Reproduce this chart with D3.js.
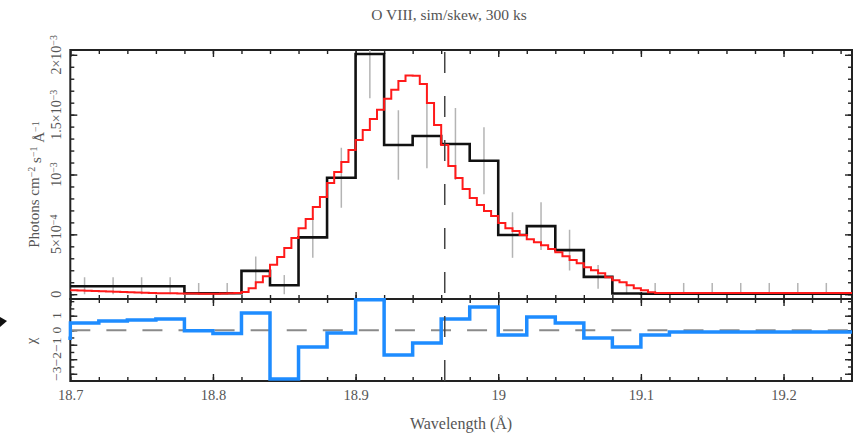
<!DOCTYPE html>
<html><head><meta charset="utf-8">
<script src="https://cdn.jsdelivr.net/npm/d3@7"></script>
<style>
body{margin:0;background:#fff;}
svg{display:block;}
text{font-family:"Liberation Serif","DejaVu Serif",serif;fill:#555;}
</style></head><body>
<svg id="c" width="857" height="437"></svg>
<script>
// ---------- data ----------
const titleText = "O VIII, sim/skew, 300 ks";
const xLabel = "Wavelength (Å)";
const xTickValues = [18.7, 18.8, 18.9, 19.0, 19.1, 19.2];
const xTickLabels = ["18.7", "18.8", "18.9", "19", "19.1", "19.2"];
const fluxTickValues = [0, 0.5, 1, 1.5, 2];            // units of 1e-3
const fluxTickMantissa = ["0", "5×10", "10", "1.5×10", "2×10"];
const fluxTickExponent = ["", "−4", "−3", "−3", "−3"];
const chiTickValues = [-3, -2, -1, 0, 1];
const chiTickLabels = ["−3", "−2", "−1", "0", "1"];
const lineRest = 18.9625;                                // dashed marker (Å)

// observed spectrum, 0.02 Å bins (flux in 1e-3 photons cm^-2 s^-1 Å^-1)
const binEdges = [18.70,18.72,18.74,18.76,18.78,18.80,18.82,18.84,18.86,18.88,18.90,18.92,18.94,18.96,18.98,
                  19.00,19.02,19.04,19.06,19.08,19.10,19.12,19.14,19.16,19.18,19.20,19.22,19.24,19.26];
const fluxValues = [0.067,0.067,0.067,0.067,0.008,0.008,0.195,0.075,0.475,0.973,2.006,1.247,1.322,1.255,
                    1.115,0.494,0.569,0.368,0.145,0.006,0.004,0.004,0.004,0.004,0.004,0.004,0.004,0.004];
const fluxErrors = [0.075,0.075,0.075,0.075,0.085,0.085,0.12,0.085,0.17,0.25,0.37,0.29,0.27,0.30,
                    0.28,0.19,0.20,0.17,0.10,0.09,0.09,0.09,0.09,0.09,0.09,0.09,0.09,0.09];

// residuals (chi), bins start one bin earlier (clipped)
const chiEdges = [18.68,18.70,18.72,18.74,18.76,18.78,18.80,18.82,18.84,18.86,18.88,18.90,18.92,18.94,18.96,18.98,
                  19.00,19.02,19.04,19.06,19.08,19.10,19.12,19.14,19.16,19.18,19.20,19.22,19.24,19.26];
const chiValues = [-0.55,0.50,0.63,0.70,0.77,-0.03,-0.22,1.19,-3.37,-1.16,-0.19,2.10,-1.71,-0.88,0.77,1.60,
                   -0.33,0.91,0.50,-0.54,-1.16,-0.33,-0.12,-0.12,-0.12,-0.12,-0.12,-0.12,-0.12];

// model, 0.005 Å bins starting at 18.70 (units 1e-3)
const modelStart = 18.70, modelStep = 0.005;
const modelValues = [0.033,0.031,0.029,0.027,0.025,0.023,0.021,0.019,0.017,0.015,0.013,0.011,0.009,0.008,0.007,
  0.006,0.005,0.005,0.004,0.004,0.004,0.005,
  0.007,0.010,0.019,0.050,0.100,0.151,0.247,0.310,0.385,0.469,0.552,0.628,0.728,0.812,0.929,1.021,1.105,1.205,
  1.289,1.372,1.464,1.540,1.632,1.707,1.782,1.828,1.824,1.757,1.598,1.414,1.247,1.071,0.971,0.879,0.803,0.745,
  0.695,0.653,0.594,0.552,0.527,0.494,0.460,0.435,0.410,0.377,0.351,0.318,0.285,0.259,0.226,0.201,0.176,0.142,
  0.117,0.100,0.075,0.050,0.033,0.017,
  0.011,0.011,0.011,0.011,0.011,0.011,0.011,0.011,0.011,0.011,0.011,0.011,0.011,0.011,0.011,0.011,0.011,0.011,
  0.011,0.011,0.011,0.011,0.011,0.011,0.011,0.011,0.011,0.011];

// ---------- layout ----------
const L = 70.3, R = 852, T1 = 50, B1 = 299, B2 = 381;
const svg = d3.select("#c");

const x = d3.scaleLinear().domain([18.7, 19.248]).range([L, R]);
const y1 = d3.scaleLinear().domain([-0.04, 2.04]).range([B1, T1]);
const y2 = d3.scaleLinear().domain([-3.5, 2.15]).range([B2, B1]);

const defs = svg.append("defs");
defs.append("clipPath").attr("id", "clip1").append("rect")
  .attr("x", L - 1).attr("y", T1).attr("width", R - L + 1).attr("height", B1 - T1);
defs.append("clipPath").attr("id", "clip2").append("rect")
  .attr("x", L - 2).attr("y", B1 - 1).attr("width", R - L + 2).attr("height", B2 - B1 + 1);

const xMinor = d3.range(0, 28).map(i => 18.70 + i * 0.02);
const y1Minor = d3.range(0, 21).map(i => i * 0.1);
const y2Minor = d3.range(0, 11).map(i => -3 + i * 0.5);

function addAxis(gen, tx, ty) {
  const g = svg.append("g").attr("transform", `translate(${tx},${ty})`).call(gen);
  g.select(".domain").remove();
  g.selectAll("line").attr("stroke", "#222").attr("stroke-width", 1.4);
  return g;
}
// x ticks (inward) for both panels
[[d3.axisBottom, T1], [d3.axisTop, B1], [d3.axisBottom, B1], [d3.axisTop, B2]].forEach(([f, yy]) => {
  addAxis(f(x).tickValues(xTickValues).tickSize(7).tickFormat(""), 0, yy);
  addAxis(f(x).tickValues(xMinor).tickSize(4).tickFormat(""), 0, yy);
});
// y ticks panel 1
addAxis(d3.axisRight(y1).tickValues(fluxTickValues).tickSize(7).tickFormat(""), L, 0);
addAxis(d3.axisRight(y1).tickValues(y1Minor).tickSize(4).tickFormat(""), L, 0);
addAxis(d3.axisLeft(y1).tickValues(fluxTickValues).tickSize(7).tickFormat(""), R, 0);
addAxis(d3.axisLeft(y1).tickValues(y1Minor).tickSize(4).tickFormat(""), R, 0);
// y ticks panel 2
addAxis(d3.axisRight(y2).tickValues(chiTickValues).tickSize(7).tickFormat(""), L, 0);
addAxis(d3.axisRight(y2).tickValues(y2Minor).tickSize(4).tickFormat(""), L, 0);
addAxis(d3.axisLeft(y2).tickValues(chiTickValues).tickSize(7).tickFormat(""), R, 0);
addAxis(d3.axisLeft(y2).tickValues(y2Minor).tickSize(4).tickFormat(""), R, 0);

// x tick labels
const xl = addAxis(d3.axisBottom(x).tickValues(xTickValues).tickSize(0).tickPadding(9)
  .tickFormat((d, i) => xTickLabels[i]), 0, B2);
xl.selectAll("text").attr("font-family", "Liberation Serif, serif").attr("font-size", 14.5).attr("fill", "#555");

// frames
svg.append("rect").attr("x", L).attr("y", T1).attr("width", R - L).attr("height", B1 - T1)
  .attr("fill", "none").attr("stroke", "#222").attr("stroke-width", 2);
svg.append("rect").attr("x", L).attr("y", B1).attr("width", R - L).attr("height", B2 - B1)
  .attr("fill", "none").attr("stroke", "#222").attr("stroke-width", 2);

// ---------- panel 1 ----------
const p1 = svg.append("g").attr("clip-path", "url(#clip1)");
const centres = fluxValues.map((v, i) => (binEdges[i] + binEdges[i + 1]) / 2);
p1.selectAll("line.err").data(fluxValues).join("line").attr("class", "err")
  .attr("x1", (d, i) => x(centres[i])).attr("x2", (d, i) => x(centres[i]))
  .attr("y1", (d, i) => y1(Math.max(0, d - fluxErrors[i])))
  .attr("y2", (d, i) => y1(d + fluxErrors[i]))
  .attr("stroke", "#b4b4b4").attr("stroke-width", 1.5);

const stepLine = (xs, ys, ysc) => d3.line().curve(d3.curveStepAfter)
  .x(d => x(d[0])).y(d => ysc(d[1]))(ys.map((v, i) => [xs[i], v]).concat([[xs[ys.length], ys[ys.length - 1]]]));

p1.append("path").attr("d", stepLine(binEdges, fluxValues, y1))
  .attr("fill", "none").attr("stroke", "#111").attr("stroke-width", 2.6);

const modelEdges = d3.range(0, modelValues.length + 1).map(i => modelStart + i * modelStep);
p1.append("path").attr("d", stepLine(modelEdges, modelValues, y1))
  .attr("fill", "none").attr("stroke", "#ff1a1a").attr("stroke-width", 2);

// ---------- panel 2 ----------
const p2 = svg.append("g").attr("clip-path", "url(#clip2)");
p2.append("line").attr("x1", L).attr("x2", R).attr("y1", y2(0)).attr("y2", y2(0))
  .attr("stroke", "#8a8a8a").attr("stroke-width", 2).attr("stroke-dasharray", "20,16.07");
p2.append("path").attr("d", stepLine(chiEdges, chiValues, y2))
  .attr("fill", "none").attr("stroke", "#1e8cff").attr("stroke-width", 3.5);

// vertical dashed marker across both panels
svg.append("line").attr("x1", x(lineRest)).attr("x2", x(lineRest)).attr("y1", 52).attr("y2", B2)
  .attr("stroke", "#444").attr("stroke-width", 1.5).attr("stroke-dasharray", "21,23");

// ---------- texts ----------
svg.append("text").attr("x", 449).attr("y", 20).attr("text-anchor", "middle")
  .attr("font-size", 15.5).attr("fill", "#444").text(titleText);
svg.append("text").attr("x", 461).attr("y", 429).attr("text-anchor", "middle")
  .attr("font-size", 16).text(xLabel);

// y tick labels panel 1
fluxTickValues.forEach((v, i) => {
  const t = svg.append("text").attr("transform", `translate(61,${y1(v)}) rotate(-90)`)
    .attr("text-anchor", "middle").attr("font-size", 14);
  t.append("tspan").text(fluxTickMantissa[i]);
  if (fluxTickExponent[i]) t.append("tspan").attr("dy", "-0.45em").attr("font-size", 10).text(fluxTickExponent[i]);
});
// y tick labels panel 2
chiTickValues.forEach((v, i) => {
  svg.append("text").attr("transform", `translate(61,${y2(v)}) rotate(-90)`)
    .attr("text-anchor", "middle").attr("font-size", 13.5).text(chiTickLabels[i]);
});
// y title panel 1
const yt = svg.append("text").attr("transform", `translate(39,${(T1 + B1) / 2 + 10}) rotate(-90)`)
  .attr("text-anchor", "middle").attr("font-size", 15);
[["Photons cm", 0], ["−2", -1], [" s", 1], ["−1", -1], [" Å", 1], ["−1", -1]].forEach(([s, k]) => {
  const ts = yt.append("tspan").text(s);
  if (k === -1) ts.attr("dy", "-0.45em").attr("font-size", 10);
  if (k === 1) ts.attr("dy", "6.75");
});
// chi title
svg.append("text").attr("transform", `translate(36,341) rotate(-90)`)
  .attr("text-anchor", "middle").attr("font-size", 15).text("χ");

// small arrow glyph at left edge
svg.append("polygon").attr("points", "0,317 7,321 0,327").attr("fill", "#111");
</script>
</body></html>
